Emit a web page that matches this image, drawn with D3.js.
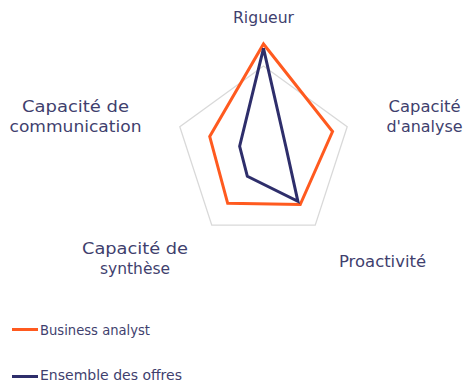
<!DOCTYPE html>
<html><head><meta charset="utf-8">
<script src="https://cdn.jsdelivr.net/npm/d3@7"></script>
<style>body{margin:0;background:#fff}svg{display:block}</style>
</head><body>
<script>
const categories = ["Rigueur", "Capacité d'analyse", "Proactivité", "Capacité de synthèse", "Capacité de communication"];
const businessAnalyst = [5.0, 3.3, 2.84, 2.77, 2.57];
const ensembleOffres = [4.8, 1.07, 2.66, 1.25, 1.14];
const seriesNames = ["Business analyst", "Ensemble des offres"];
const gridLevels = [4];

const W = 468, H = 383;
const cx = 263.5, cy = 154;
const svg = d3.select("body").append("svg").attr("width", W).attr("height", H);
const r = d3.scaleLinear().domain([0, 5]).range([0, 110]);
const ang = d3.scaleLinear().domain([0, categories.length]).range([0, 2 * Math.PI]);
const pt = (i, v) => [cx + r(v) * Math.sin(ang(i)), cy - r(v) * Math.cos(ang(i))];
const line = d3.line().curve(d3.curveLinearClosed);

gridLevels.forEach(g => {
  svg.append("path").attr("d", line(categories.map((c, i) => pt(i, g))))
    .attr("fill", "none").attr("stroke", "#d9d9d9").attr("stroke-width", 1.3);
});

const colors = ["#ff5a1f", "#2e2e6b"];
[businessAnalyst, ensembleOffres].forEach((s, k) => {
  svg.append("path").attr("d", line(s.map((v, i) => pt(i, v))))
    .attr("fill", "none").attr("stroke", colors[k]).attr("stroke-width", 3)
    .attr("stroke-linejoin", "miter");
});

const textColor = "#3f3f6e";
const labelLayout = [
  {lines: ["Rigueur"], x: 263.5, y: [23], w: [61]},
  {lines: ["Capacité", "d'analyse"], x: 424.5, y: [112, 131.5], w: [72, 76]},
  {lines: ["Proactivité"], x: 382.5, y: [266.5], w: [87]},
  {lines: ["Capacité de", "synthèse"], x: 135, y: [253.5, 273.5], w: [106, 70]},
  {lines: ["Capacité de", "communication"], x: 75.5, y: [112, 131.5], w: [107, 132]}
];
labelLayout.forEach(l => {
  l.lines.forEach((t, j) => {
    svg.append("text").attr("x", l.x).attr("y", l.y[j]).attr("text-anchor", "middle")
      .attr("font-family", "DejaVu Sans").attr("font-size", 16).attr("fill", textColor)
      .attr("textLength", l.w[j]).attr("lengthAdjust", "spacingAndGlyphs")
      .text(t);
  });
});

const legY = [329.5, 376.5];
const legTextY = [335, 379.5];
const legW = [110, 142];
seriesNames.forEach((n, k) => {
  svg.append("line").attr("x1", 12).attr("x2", 38).attr("y1", legY[k]).attr("y2", legY[k])
    .attr("stroke", colors[k]).attr("stroke-width", 3);
  svg.append("text").attr("x", 40).attr("y", legTextY[k])
    .attr("font-family", "DejaVu Sans").attr("font-size", 14).attr("fill", textColor)
    .attr("textLength", legW[k]).attr("lengthAdjust", "spacingAndGlyphs")
    .text(n);
});
</script>
</body></html>
